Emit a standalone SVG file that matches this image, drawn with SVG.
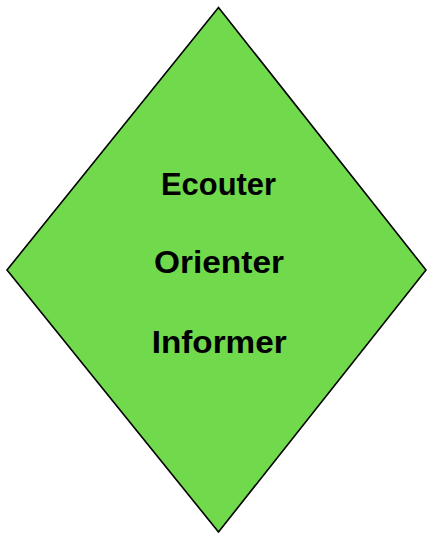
<svg xmlns="http://www.w3.org/2000/svg" width="427" height="533" viewBox="0 0 427 533">
<style>
.lbl{font-family:"Liberation Sans",Arial,sans-serif;font-weight:bold;font-size:31px;fill:#000;text-anchor:middle}
</style>
<rect width="427" height="533" fill="#fff"/>
<g id="node-diamond">
<polygon points="218.5,7.5 426,270 218.5,532 7,270" fill="#71D94C" stroke="#000" stroke-width="1.6" stroke-linejoin="miter"/>
<text class="lbl" x="218.5" y="195" textLength="115" lengthAdjust="spacingAndGlyphs">Ecouter</text>
<text class="lbl" x="219" y="273" textLength="130" lengthAdjust="spacingAndGlyphs">Orienter</text>
<text class="lbl" x="219.2" y="353" textLength="135" lengthAdjust="spacingAndGlyphs">Informer</text>
</g>
<g id="connectors"></g>
</svg>
